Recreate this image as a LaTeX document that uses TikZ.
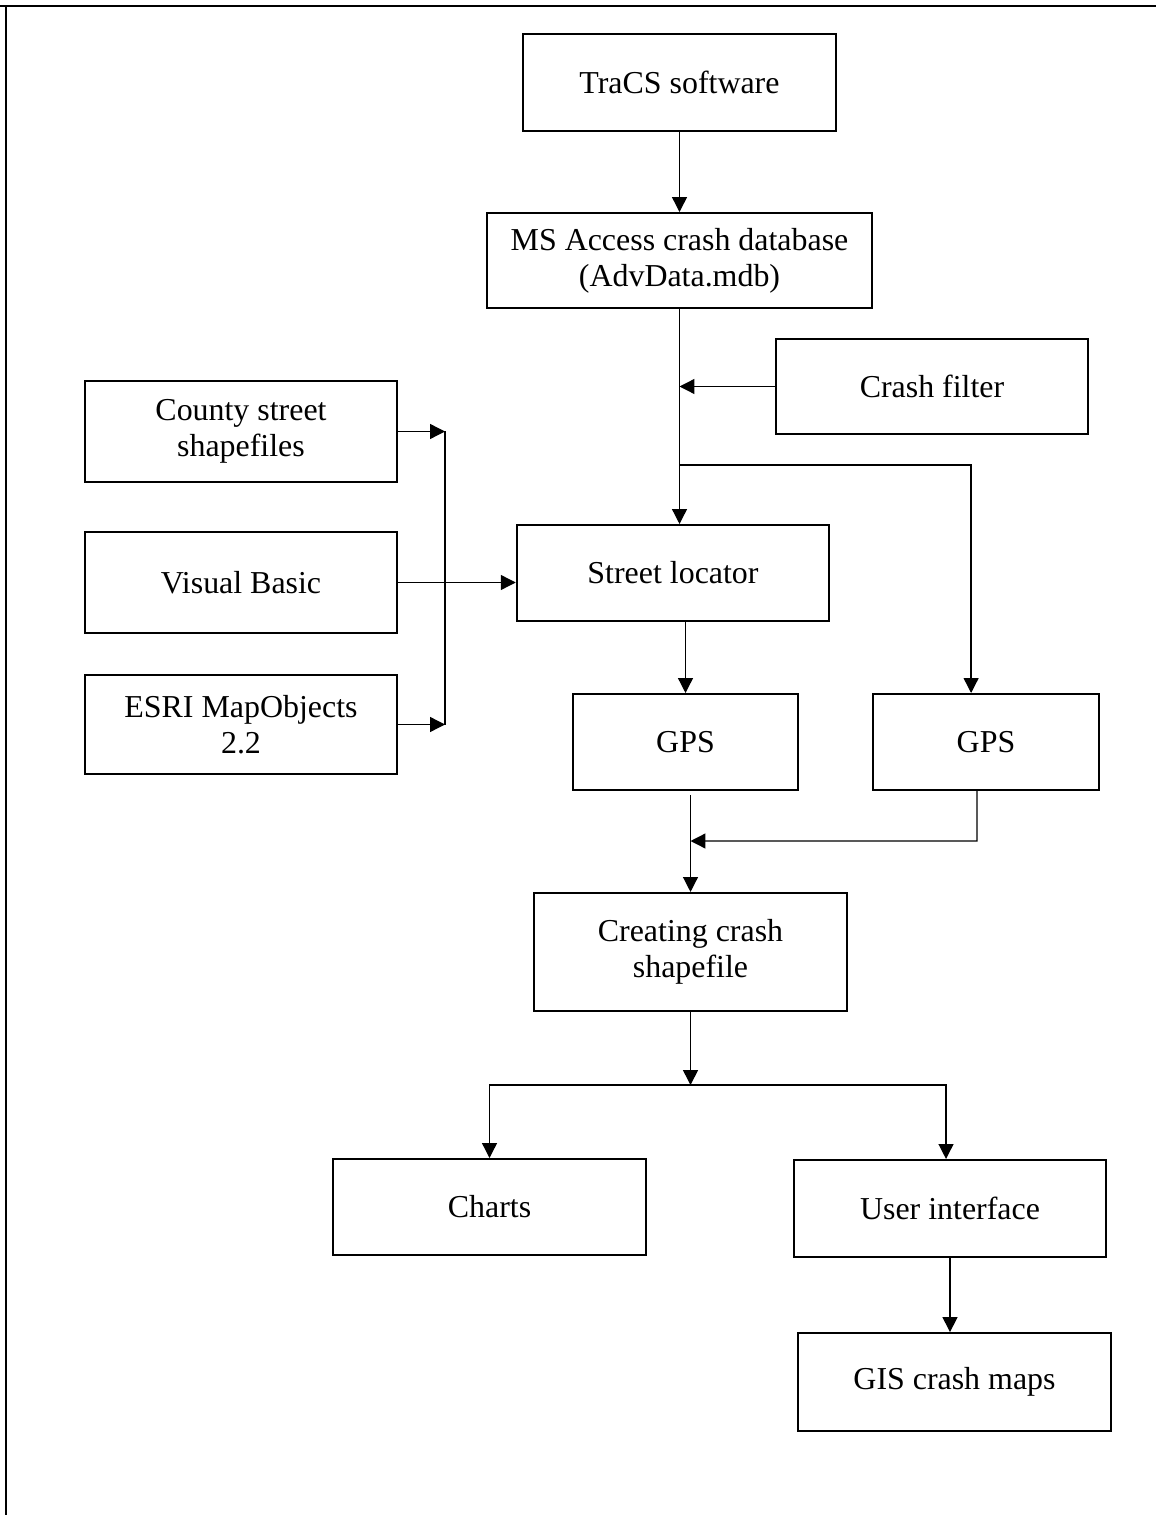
\documentclass[tikz,border=0pt]{standalone}
\usepackage{fontspec}
\setmainfont{Liberation Serif}
\usetikzlibrary{arrows.meta,calc}

\begin{document}
\begin{tikzpicture}[x=0.376pt,y=-0.376pt,
	box/.style={draw,line width=0.75pt,align=center,inner sep=0pt,
		minimum width=117.5pt,minimum height=36.5pt,font=\fontsize{12}{13.5}\selectfont},
	link/.style={line width=0.5pt},
	>={Triangle[length=5.6pt,width=5.6pt]}]
	\useasboundingbox (0,0) rectangle (1156,1515);
	\draw[line width=0.75pt] (0,6) -- (1156,6);
	\draw[line width=0.75pt] (6,6) -- (6,1515);

	\node[box] (tracs) at (679.5,82.5) {TraCS software};
	\node[box,minimum width=144.8pt,minimum height=35.7pt] (msdb) at (679.5,260.5) {MS Access crash database\\(AdvData.mdb)};
	\node[box,minimum height=35.7pt] (filter) at (932,386.5) {Crash filter};
	\node[box,minimum height=38pt] (county) at (241,431.5) {County street\\shapefiles};
	\node[box,minimum height=38pt] (vb) at (241,582.5) {Visual Basic};
	\node[box,minimum height=37.2pt] (esri) at (241,724.5) {ESRI MapObjects\\2.2};
	\node[box,minimum height=36.1pt] (locator) at (673,573) {Street locator};
	\node[box,minimum width=84.6pt,minimum height=36.1pt] (gpsa) at (685.5,742) {GPS};
	\node[box,minimum width=84.8pt,minimum height=36.1pt] (gpsb) at (986,742) {GPS};
	\node[box,minimum height=44.4pt] (creating) at (690.5,952) {Creating crash\\shapefile};
	\node[box,minimum height=36.1pt] (charts) at (489.5,1207) {Charts};
	\node[box] (ui) at (950,1208.5) {User interface};
	\node[box,minimum height=36.8pt] (gis) at (954.5,1382) {GIS crash maps};

	\coordinate (split) at ($(msdb.south)+(0,156)$);
	\coordinate (bus) at (445,0);
	\coordinate (join) at ($(gpsb.south)+(-9,50)$);
	\coordinate (fork) at ($(creating.south)+(0,73)$);

	\draw[link,->] (tracs) -- (msdb);
	\draw[link,->] (msdb.south) -- (msdb.south |- locator.north);
	\draw[link,->] (filter.west) -- (filter.west -| msdb.south);
	\draw[link,->] (split) -| ([xshift=-5.6pt]gpsb.north);
	\foreach \n in {county,esri}
		\draw[link,->] (\n.east) -- (\n.east -| bus);
	\draw[link] (county.east -| bus) -- (esri.east -| bus);
	\draw[link,->] (vb.east) -- (vb.east -| locator.west);
	\draw[link,->] (gpsa.north |- locator.south) -- (gpsa.north);
	\draw[link,->] ([yshift=-1.5pt]creating.north |- gpsa.south) -- (creating.north);
	\draw[link,->] ([xshift=-3.4pt]gpsb.south) -- (join) -- (join -| creating.north);
	\draw[link,->] (creating.south) -- (fork);
	\draw[link,->] (fork) -| (charts.north);
	\draw[link,->] (fork) -| ([xshift=-1.5pt]ui.north);
	\draw[link,->] (ui.south) -- (ui.south |- gis.north);
\end{tikzpicture}
\end{document}
